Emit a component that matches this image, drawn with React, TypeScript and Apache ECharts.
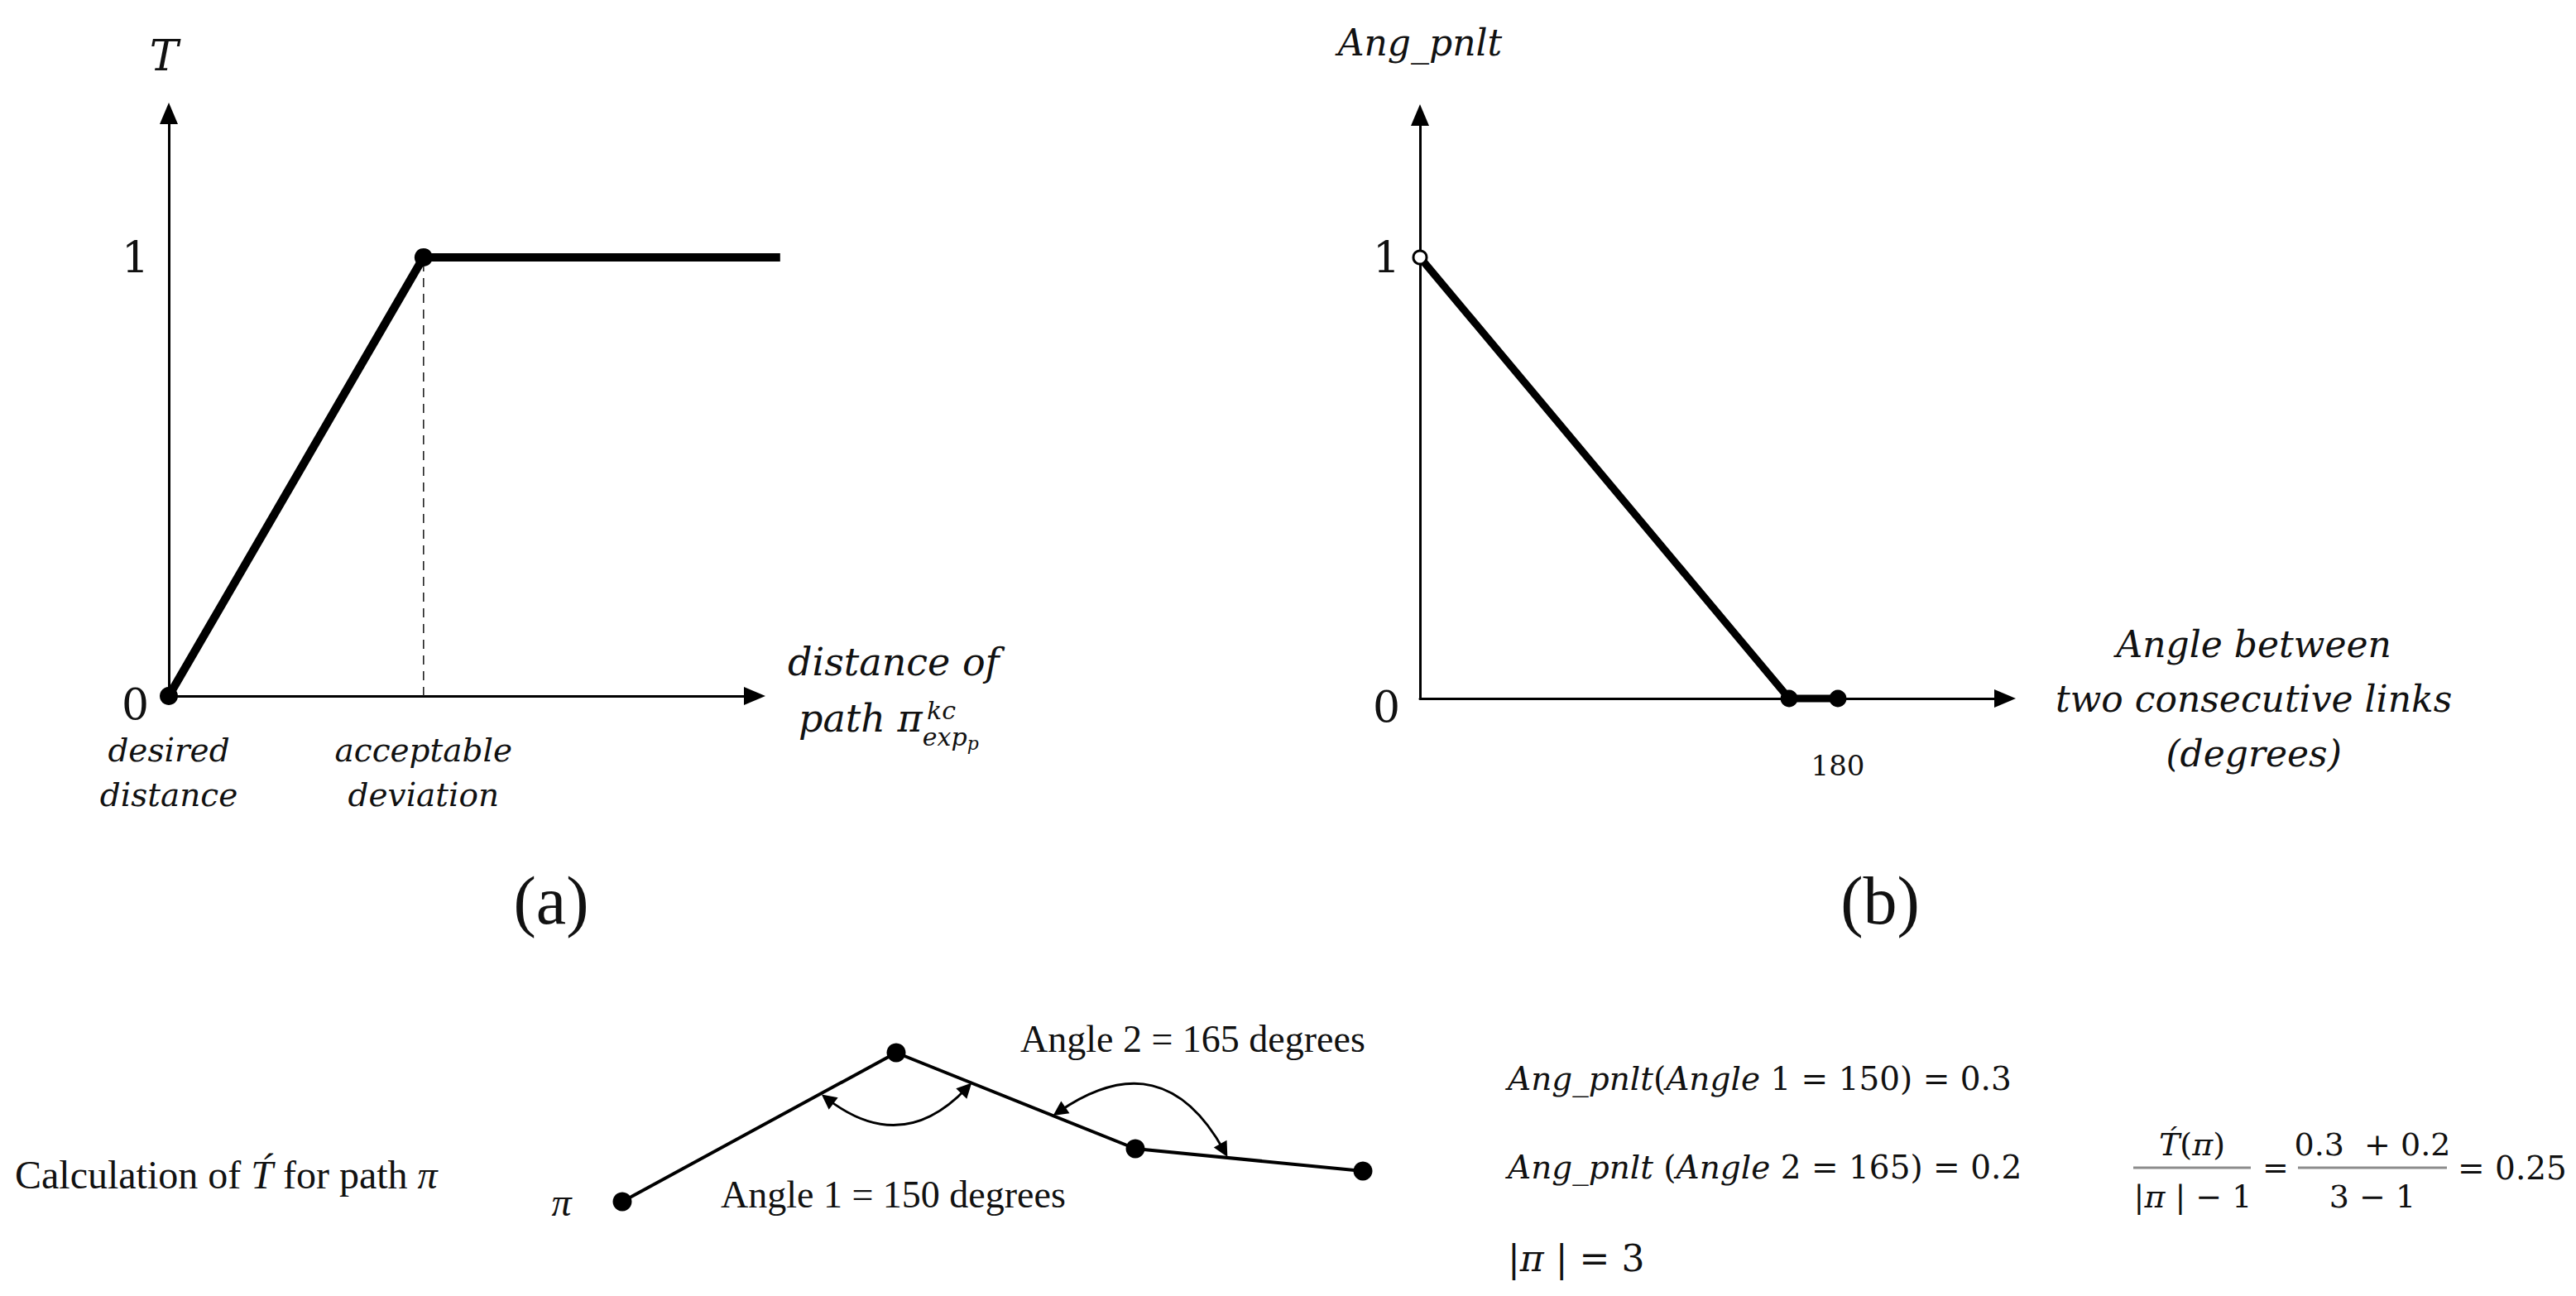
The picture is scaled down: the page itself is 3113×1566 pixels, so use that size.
import React, { useEffect, useRef } from 'react';
import * as echarts from 'echarts';

const W = 3113;
const H = 1566;
const SERIF = '"DejaVu Serif", serif';
const BOOK = '"Liberation Serif", serif';
const INK = '#111';

// ---- panel (a): T versus distance of path ----
const aDistance = [0, 1, 2.4];
const aT = [0, 1, 1];
const aDeviationX = [1, 1];
const aDeviationY = [0, 1];
const aXTickValues = [0, 1];
const aXTickLabels = ['desired\ndistance', 'acceptable\ndeviation'];
const aYTickValues = [0, 1];
const aYTickLabels = ['0', '1'];

// ---- panel (b): Ang_pnlt versus angle ----
const bAngle = [0, 159, 180];
const bPnlt = [1, 0, 0];
const bXTickValues = [180];
const bXTickLabels = ['180'];
const bYTickValues = [0, 1];
const bYTickLabels = ['0', '1'];

// ---- bottom sketch: path pi (schematic units) ----
const pathX = [10.2, 43.3, 72.2, 99.7];
const pathY = [4.8, 22.8, 11.2, 8.5];
const arcFrom = [[35.0, 17.2], [63.0, 15.7]];
const arcTo = [[51.8, 18.5], [82.9, 11.0]];
const arcBend = [-0.45, 0.55];

// axis extents of panel (a); a wider twin x-scale lets the plateau run past the arrow
const A_X_MAX = 2.3;
const A_X_MAX_WIDE = 2.5;
const A_GRID_W = 708;
const A_Y_MAX = 1.328;

function yLabelFormatter(values: number[], labels: string[]) {
  return (v: number) => {
    const i = values.indexOf(v);
    if (i < 0) return '';
    return v === 0 ? `{low|${labels[i]}}` : `{n|${labels[i]}}`;
  };
}

function xLabelFormatter(values: number[], labels: string[]) {
  return (v: number) => {
    const i = values.indexOf(v);
    return i < 0 ? '' : labels[i];
  };
}

const yRich = {
  low: { fontSize: 52, fontFamily: SERIF, color: INK, padding: [20, 0, 0, 0] },
  n: { fontSize: 52, fontFamily: SERIF, color: INK },
};

const axisLineStyle = {
  show: true,
  symbol: ['none', 'triangle'],
  symbolSize: [22, 26],
  lineStyle: { color: '#000', width: 3 },
};

function txt(x: number, y: number, text: string, size: number, family: string, extra: any = {}) {
  return {
    type: 'text',
    x,
    y,
    z: 10,
    style: {
      text,
      fontSize: size,
      fontFamily: family,
      fill: INK,
      textAlign: extra.align || 'left',
      textVerticalAlign: 'middle',
      fontStyle: extra.italic ? 'italic' : 'normal',
      rich: {
        i: { fontStyle: 'italic', fontSize: size, fontFamily: family, color: INK },
      },
    },
  };
}

function bar(x1: number, x2: number, y: number) {
  return {
    type: 'line',
    z: 10,
    shape: { x1, y1: y, x2, y2: y },
    style: { stroke: '#8c8c8c', lineWidth: 3 },
  };
}

const option: any = {
  animation: false,
  backgroundColor: '#fff',
  textStyle: { fontFamily: SERIF, color: INK },
  grid: [
    { left: 204, top: 137, width: A_GRID_W, height: 704 },
    { left: 1716, top: 139, width: 707, height: 705 },
    { left: 650, top: 1200, width: 1100, height: 300 },
    { left: 204, top: 137, width: (A_GRID_W * A_X_MAX_WIDE) / A_X_MAX, height: 704 },
  ],
  xAxis: [
    {
      gridIndex: 0,
      type: 'value',
      min: 0,
      max: A_X_MAX,
      interval: 1,
      axisLine: axisLineStyle,
      axisTick: { show: false },
      splitLine: { show: false },
      axisLabel: {
        formatter: xLabelFormatter(aXTickValues, aXTickLabels),
        margin: 38,
        fontSize: 39,
        lineHeight: 54,
        fontStyle: 'italic',
        fontFamily: SERIF,
        color: INK,
        verticalAlign: 'top',
      },
      name: '{l|distance of}\n{p|path π}{sub|exp}{ss|p}',
      nameLocation: 'end',
      nameGap: 40,
      nameTextStyle: {
        align: 'left',
        verticalAlign: 'middle',
        fontSize: 46,
        lineHeight: 68,
        fontStyle: 'italic',
        fontFamily: SERIF,
        color: INK,
        padding: [0, 0, 14, 0],
        rich: {
          l: { fontSize: 46, fontStyle: 'italic', fontFamily: SERIF, color: INK, lineHeight: 68 },
          p: { fontSize: 46, fontStyle: 'italic', fontFamily: SERIF, color: INK, lineHeight: 68, padding: [0, 0, 0, 13] },
          sub: { fontSize: 30, fontStyle: 'italic', fontFamily: SERIF, color: INK, lineHeight: 22, padding: [44, 0, 0, 0] },
          ss: { fontSize: 22, fontStyle: 'italic', fontFamily: SERIF, color: INK, lineHeight: 18, padding: [60, 0, 0, 0] },
        },
      },
    },
    {
      gridIndex: 1,
      type: 'value',
      min: 0,
      max: 252,
      interval: 180,
      axisLine: axisLineStyle,
      axisTick: { show: false },
      splitLine: { show: false },
      axisLabel: {
        formatter: xLabelFormatter(bXTickValues, bXTickLabels),
        margin: 64,
        fontSize: 34,
        fontFamily: SERIF,
        color: INK,
        verticalAlign: 'top',
      },
      name: '{c|Angle between}\n{c|two consecutive links}\n{c|(degrees)}',
      nameLocation: 'end',
      nameGap: 61,
      nameTextStyle: {
        align: 'left',
        verticalAlign: 'middle',
        fontSize: 44,
        lineHeight: 66,
        fontStyle: 'italic',
        fontFamily: SERIF,
        color: INK,
        rich: {
          c: { align: 'center', fontSize: 44, lineHeight: 66, fontStyle: 'italic', fontFamily: SERIF, color: INK },
        },
      },
    },
    { gridIndex: 2, type: 'value', min: 0, max: 110, show: false },
    { gridIndex: 3, type: 'value', min: 0, max: A_X_MAX_WIDE, show: false },
  ],
  yAxis: [
    {
      gridIndex: 0,
      type: 'value',
      min: 0,
      max: A_Y_MAX,
      interval: 1,
      axisLine: axisLineStyle,
      axisTick: { show: false },
      splitLine: { show: false },
      axisLabel: {
        formatter: yLabelFormatter(aYTickValues, aYTickLabels),
        margin: 24,
        rich: yRich,
      },
      name: 'T',
      nameLocation: 'end',
      nameGap: 70,
      nameTextStyle: {
        align: 'center',
        verticalAlign: 'middle',
        fontSize: 52,
        fontStyle: 'italic',
        fontFamily: SERIF,
        color: INK,
        padding: [0, 12, 0, 0],
      },
    },
    {
      gridIndex: 1,
      type: 'value',
      min: 0,
      max: 1.3227,
      interval: 1,
      axisLine: axisLineStyle,
      axisTick: { show: false },
      splitLine: { show: false },
      axisLabel: {
        formatter: yLabelFormatter(bYTickValues, bYTickLabels),
        margin: 24,
        rich: yRich,
      },
      name: 'Ang_pnlt',
      nameLocation: 'end',
      nameGap: 88,
      nameTextStyle: {
        align: 'center',
        verticalAlign: 'middle',
        fontSize: 44,
        fontStyle: 'italic',
        fontFamily: SERIF,
        color: INK,
      },
    },
    { gridIndex: 2, type: 'value', min: 0, max: 30, show: false },
    { gridIndex: 3, type: 'value', min: 0, max: A_Y_MAX, show: false },
  ],
  series: [
    {
      type: 'line',
      xAxisIndex: 0,
      yAxisIndex: 0,
      z: 2,
      data: aDeviationX.map((x, i) => [x, aDeviationY[i]]),
      symbol: 'none',
      lineStyle: { color: '#222', width: 1.6, type: [11, 8] },
    },
    {
      type: 'line',
      xAxisIndex: 3,
      yAxisIndex: 3,
      z: 3,
      clip: false,
      data: aDistance.map((x, i) =>
        i === aDistance.length - 1 ? { value: [x, aT[i]], symbol: 'none' } : [x, aT[i]]
      ),
      symbol: 'circle',
      symbolSize: 22,
      itemStyle: { color: '#000' },
      lineStyle: { color: '#000', width: 10 },
    },
    {
      type: 'line',
      xAxisIndex: 1,
      yAxisIndex: 1,
      z: 3,
      clip: false,
      data: bAngle.map((x, i) =>
        i === 0
          ? {
              value: [x, bPnlt[i]],
              symbolSize: 16,
              itemStyle: { color: '#fff', borderColor: '#000', borderWidth: 3 },
            }
          : [x, bPnlt[i]]
      ),
      symbol: 'circle',
      symbolSize: 21,
      itemStyle: { color: '#000' },
      lineStyle: { color: '#000', width: 9 },
    },
    {
      type: 'line',
      xAxisIndex: 2,
      yAxisIndex: 2,
      z: 3,
      clip: false,
      data: pathX.map((x, i) =>
        i === 0
          ? {
              value: [x, pathY[i]],
              label: {
                show: true,
                formatter: 'π',
                position: 'left',
                distance: 50,
                fontSize: 48,
                fontStyle: 'italic',
                fontFamily: BOOK,
                color: INK,
              },
            }
          : [x, pathY[i]]
      ),
      symbol: 'circle',
      symbolSize: 23,
      itemStyle: { color: '#000' },
      lineStyle: { color: '#000', width: 4 },
    },
    {
      type: 'lines',
      coordinateSystem: 'cartesian2d',
      xAxisIndex: 2,
      yAxisIndex: 2,
      z: 3,
      symbol: ['triangle', 'triangle'],
      symbolSize: 18,
      lineStyle: { color: '#000', width: 2.8, opacity: 1 },
      data: arcFrom.map((f, i) => ({
        coords: [f, arcTo[i]],
        lineStyle: { curveness: arcBend[i] },
      })),
    },
  ],
  graphic: [
    txt(666, 1088, '(a)', 82, BOOK, { align: 'center' }),
    txt(2272, 1088, '(b)', 82, BOOK, { align: 'center' }),
    txt(18, 1419, 'Calculation of {i|T\u0301} for path {i|π}', 48, BOOK),
    txt(871, 1443, 'Angle 1 = 150 degrees', 46, BOOK),
    txt(1233, 1255, 'Angle 2 = 165 degrees', 46, BOOK),
    txt(1822, 1303, '{i|Ang_pnlt}({i|Angle} 1 = 150) = 0.3', 39, SERIF),
    txt(1822, 1410, '{i|Ang_pnlt} ({i|Angle} 2 = 165) = 0.2', 39, SERIF),
    txt(1822, 1520, '|{i|π} | = 3', 44, SERIF),
    txt(2649, 1383, '{i|T\u0301}({i|π})', 38, SERIF, { align: 'center' }),
    bar(2578, 2720, 1411),
    txt(2650, 1446, '|{i|π} | − 1', 38, SERIF, { align: 'center' }),
    txt(2750, 1411, '=', 38, SERIF, { align: 'center' }),
    txt(2867, 1383, '0.3  + 0.2', 38, SERIF, { align: 'center' }),
    bar(2777, 2957, 1411),
    txt(2867, 1446, '3 − 1', 38, SERIF, { align: 'center' }),
    txt(2970, 1411, '= 0.25', 39, SERIF),
    txt(1120, 858, 'kc', 30, SERIF, { italic: true }),
  ],
};

export default function App() {
  const ref = useRef<HTMLDivElement>(null);
  useEffect(() => {
    if (!ref.current) return;
    const chart = echarts.init(ref.current, null, { renderer: 'svg' });
    chart.setOption(option);
    return () => chart.dispose();
  }, []);
  return (
    <div
      ref={ref}
      style={{ position: 'fixed', left: 0, top: 0, width: W, height: H, background: '#fff' }}
    />
  );
}
